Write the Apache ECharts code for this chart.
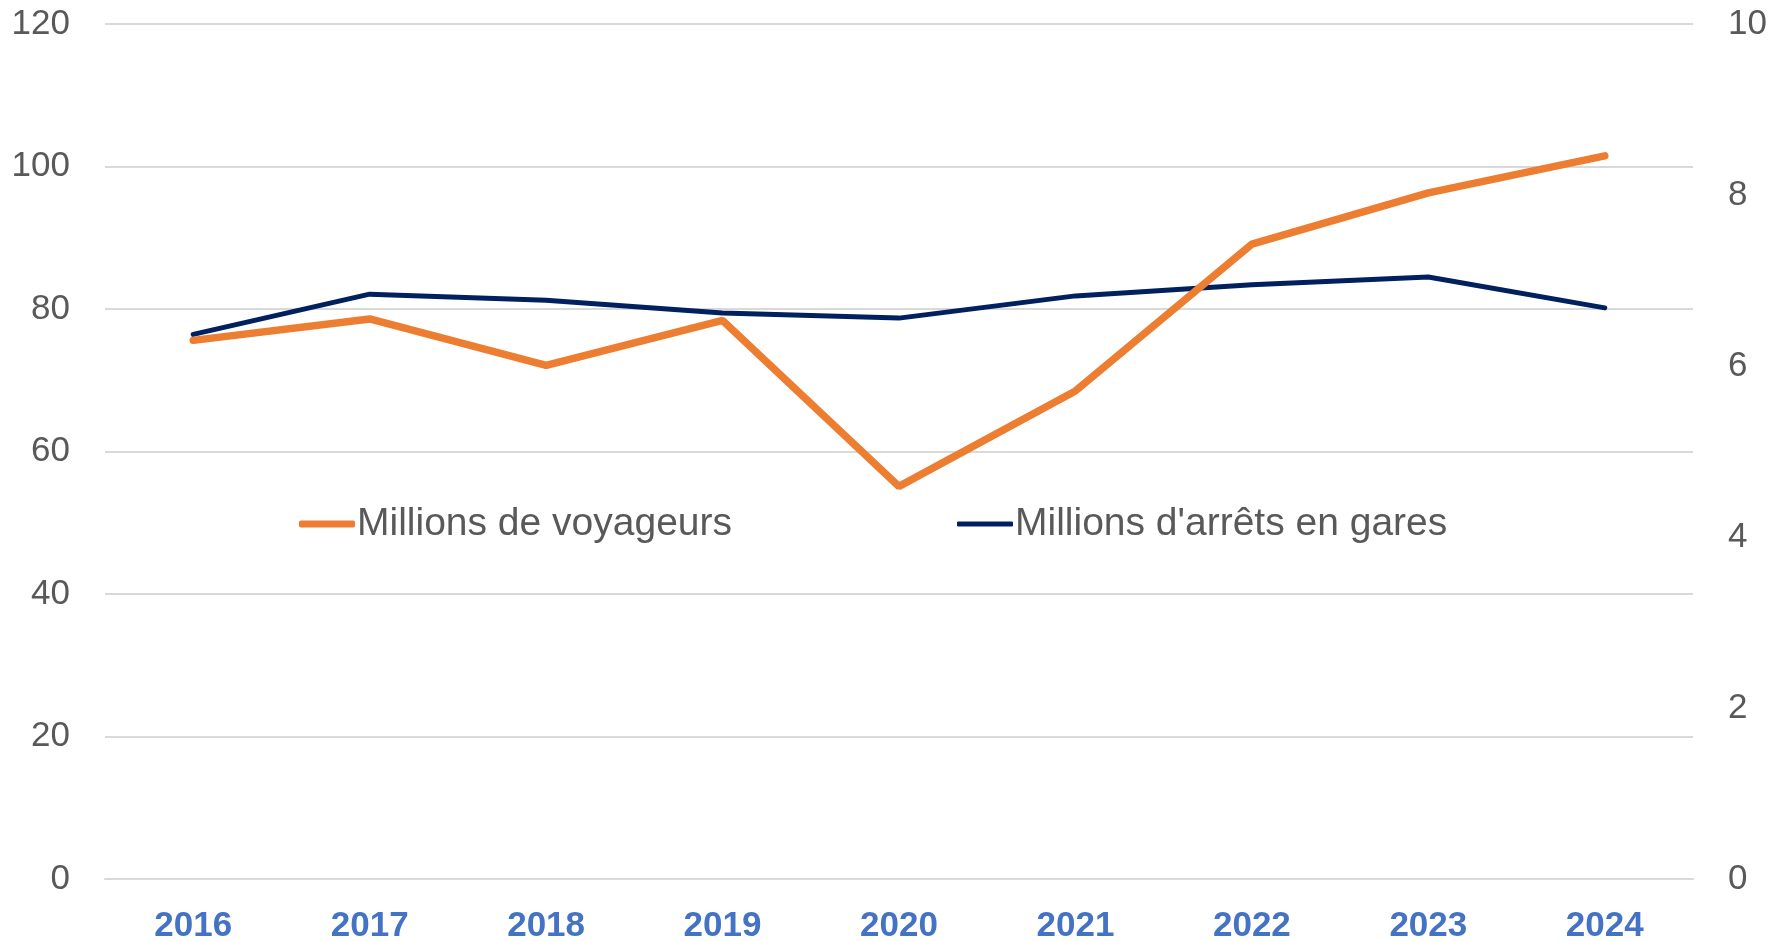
<!DOCTYPE html>
<html>
<head>
<meta charset="utf-8">
<script src="https://cdn.jsdelivr.net/npm/echarts@6/dist/echarts.min.js"></script>
<style>
  html, body { margin: 0; padding: 0; background: #fff; }
  #chart { width: 1769px; height: 941px; }
</style>
</head>
<body>
<div id="chart"></div>
<script>
// data
var years = ['2016', '2017', '2018', '2019', '2020', '2021', '2022', '2023', '2024'];
var voyageurs = [75.6, 78.6, 72.1, 78.4, 55.1, 68.5, 89.1, 96.3, 101.5];
var arrets = [6.37, 6.84, 6.77, 6.62, 6.56, 6.82, 6.95, 7.04, 6.68];
var leftTicks = [0, 120, 20];
var rightTicks = [0, 10, 2];

var myChart = echarts.init(document.getElementById('chart'));
var option;

var legendText = { fontFamily: 'Liberation Sans', fontSize: 39, color: '#595959', lineHeight: 42, padding: [0, 0, 0, -3] };

option = {
  backgroundColor: '#ffffff',
  animation: false,
  grid: {
    left: 105,
    right: 76,
    top: 24,
    bottom: 62,
    containLabel: false,
    outerBoundsMode: 'none'
  },
  legend: [
    {
      data: ['Millions de voyageurs'],
      left: 299,
      top: 503,
      padding: 0,
      icon: 'roundRect',
      itemWidth: 56,
      itemHeight: 7,
      textStyle: legendText
    },
    {
      data: ["Millions d'arrêts en gares"],
      left: 957,
      top: 503,
      padding: 0,
      icon: 'roundRect',
      itemWidth: 56,
      itemHeight: 5,
      textStyle: legendText
    }
  ],
  xAxis: {
    type: 'category',
    data: years,
    boundaryGap: true,
    axisTick: { show: false },
    axisLine: { show: true, lineStyle: { color: '#d9d9d9', width: 2 } },
    axisLabel: {
      margin: 30,
      fontFamily: 'Liberation Sans',
      fontWeight: 'bold',
      fontSize: 35,
      color: '#4472c4'
    }
  },
  yAxis: [
    {
      type: 'value',
      min: leftTicks[0],
      max: leftTicks[1],
      interval: leftTicks[2],
      axisLine: { show: false },
      axisTick: { show: false },
      splitLine: { lineStyle: { color: '#d9d9d9', width: 2 } },
      axisLabel: { margin: 35, fontFamily: 'Liberation Sans', fontSize: 35, color: '#595959' }
    },
    {
      type: 'value',
      min: rightTicks[0],
      max: rightTicks[1],
      interval: rightTicks[2],
      position: 'right',
      axisLine: { show: false },
      axisTick: { show: false },
      splitLine: { show: false },
      axisLabel: { margin: 35, fontFamily: 'Liberation Sans', fontSize: 35, color: '#595959' }
    }
  ],
  series: [
    {
      name: "Millions d'arrêts en gares",
      type: 'line',
      yAxisIndex: 1,
      data: arrets,
      symbol: 'none',
      color: '#002060',
      lineStyle: { width: 5, color: '#002060', cap: 'round' }
    },
    {
      name: 'Millions de voyageurs',
      type: 'line',
      yAxisIndex: 0,
      data: voyageurs,
      symbol: 'none',
      color: '#ed7d31',
      lineStyle: { width: 7.5, color: '#ed7d31', cap: 'round' }
    }
  ]
};

option && myChart.setOption(option);
</script>
</body>
</html>
